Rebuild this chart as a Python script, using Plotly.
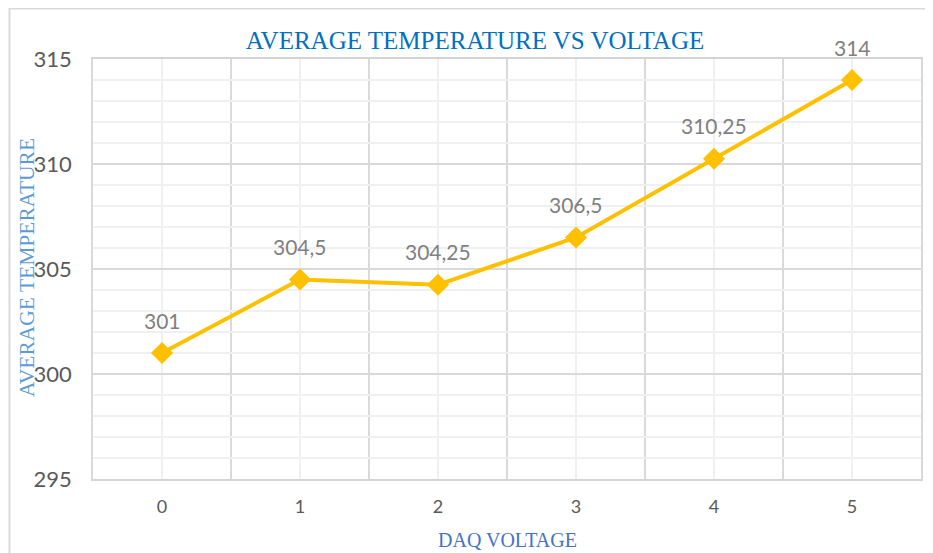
import plotly.graph_objects as go

voltage = [0, 1, 2, 3, 4, 5]
avg_temp = [301, 304.5, 304.25, 306.5, 310.25, 314]
labels = [str(v).replace(".", ",") if v != int(v) else str(int(v)) for v in avg_temp]
y_ticks = [295, 300, 305, 310, 315]

# page body has an 8px default margin, so figure coords = page coords - 8
O = 8
W, H = 933 - O, 553 - O
ml, mt = 93 - O, 59 - O
mr = W - (921 - O)
mb = H - (479 - O)
pw, ph = W - ml - mr, H - mt - mb
bottom = 479 - O  # figure y of plot bottom


def py(page_y):
    return (bottom - (page_y - O)) / ph


def px(page_x):
    return ((page_x - O) - ml) / pw


fig = go.Figure()
fig.add_trace(go.Scatter(
    x=voltage, y=avg_temp, mode="lines+markers",
    line=dict(color="#FFC000", width=4),
    marker=dict(symbol="diamond", size=17, color="#FFC000"),
    hoverinfo="skip", showlegend=False,
))
for xv, yv, t in zip(voltage, avg_temp, labels):
    fig.add_annotation(x=xv, y=yv, text=t, showarrow=False, yshift=33,
                       font=dict(family="Lato, Open Sans, sans-serif", size=21, color="#7F7F7F"))

fig.update_layout(
    width=W, height=H,
    margin=dict(l=ml, r=mr, t=mt, b=mb, pad=0, autoexpand=False),
    paper_bgcolor="white", plot_bgcolor="white",
    title=dict(text="AVERAGE TEMPERATURE VS VOLTAGE", x=(475 - O) / W, xanchor="center",
               y=1 - (40 - O) / H, yanchor="middle", automargin=False,
               font=dict(family="Liberation Serif, Times New Roman, serif", size=25, color="#0070C0")),
    xaxis=dict(range=[-0.5, 5.5], tickvals=voltage, ticktext=[str(v) for v in voltage],
               automargin=False,
               showgrid=True, gridcolor="#F0F0F0", gridwidth=1.5,
               minor=dict(tickvals=[v - 0.5 for v in voltage] + [5.5], showgrid=True,
                          gridcolor="#D9D9D9", gridwidth=1.5, ticklen=0),
               showline=True, linecolor="#D4D4D4", linewidth=2, mirror=True,
               zeroline=False, ticks="", ticklabelstandoff=10,
               tickfont=dict(family="Lato, Open Sans, sans-serif", size=18, color="#595959")),
    yaxis=dict(range=[295, 315], tickvals=y_ticks, automargin=False,
               showgrid=True, gridcolor="#D9D9D9", gridwidth=1.5,
               minor=dict(dtick=1, showgrid=True, gridcolor="#F0F0F0", gridwidth=1.5, ticklen=0),
               showline=True, linecolor="#D9D9D9", linewidth=1.5, mirror=True,
               zeroline=False, ticks="", ticklabelstandoff=15,
               tickfont=dict(family="Lato, Open Sans, sans-serif", size=22, color="#595959")),
)

fig.add_annotation(text="DAQ VOLTAGE", xref="paper", yref="paper",
                   x=0.5, y=py(540), xanchor="center", yanchor="middle", showarrow=False,
                   font=dict(family="Liberation Serif, Times New Roman, serif", size=20, color="#4472C4"))
fig.add_annotation(text="AVERAGE TEMPERATURE", xref="paper", yref="paper",
                   x=px(27), y=py(268), xanchor="center", yanchor="middle",
                   textangle=-90, showarrow=False,
                   font=dict(family="Liberation Serif, Times New Roman, serif", size=21.5, color="#5B9BD5"))

# outer chart frame
fig.add_shape(type="rect", xref="paper", yref="paper",
              x0=px(9.5), x1=px(960), y0=py(600), y1=py(8.5),
              line=dict(color="#D9D9D9", width=2), layer="below")

fig.write_html("out.html")
